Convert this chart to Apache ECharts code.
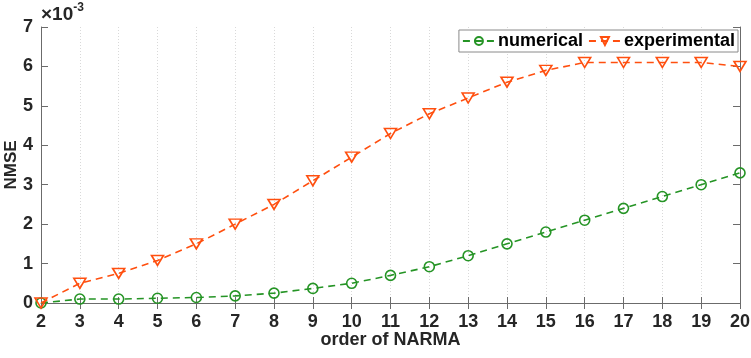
<!DOCTYPE html>
<html>
<head>
<meta charset="utf-8">
<script src="https://cdn.jsdelivr.net/npm/echarts@6/dist/echarts.min.js"></script>
<style>html,body{margin:0;padding:0;background:#fff}#c{width:751px;height:358px}</style>
</head>
<body>
<div id="c"></div>
<script>
const orders = [2,3,4,5,6,7,8,9,10,11,12,13,14,15,16,17,18,19,20];
const numerical = [0,0.10,0.10,0.12,0.14,0.18,0.25,0.37,0.50,0.70,0.92,1.20,1.50,1.80,2.10,2.40,2.70,3.00,3.30];
const experimental = [0,0.50,0.75,1.08,1.50,2.00,2.50,3.10,3.70,4.30,4.80,5.20,5.60,5.90,6.10,6.10,6.10,6.10,6.00];
const yTicks = [0,1,2,3,4,5,6,7];

const GREEN = '#259425';
const ORANGE = '#FF4F0F';
const FONT = 'Liberation Sans';
const TXT = '#262626';
const AX = '#6b6b6b';

const chart = echarts.init(document.getElementById('c'), null, {renderer:'canvas'});
const pairs = (ys) => orders.map((x,i)=>[x, ys[i]]);

chart.setOption({
  animation:false,
  backgroundColor:'#fff',
  textStyle:{fontFamily:FONT},
  grid:{left:41,right:11,top:27,bottom:55,containLabel:false,outerBoundsMode:'none'},
  legend:{
    right:13, top:30,
    itemWidth:32, itemHeight:10, itemGap:5,
    padding:[2,3,2,3],
    borderColor:'#8a8a8a', borderWidth:1, backgroundColor:'#fff',
    textStyle:{fontFamily:FONT,fontWeight:'bold',fontSize:18,color:'#000',padding:[0,0,0,-2]},
    data:['numerical','experimental']
  },
  graphic:[{
    type:'text', left:41, top:2,
    style:{
      text:'{a|×10}{b|-3}',
      rich:{
        a:{fontFamily:FONT,fontWeight:'bold',fontSize:19,fill:TXT,verticalAlign:'bottom',lineHeight:22},
        b:{fontFamily:FONT,fontWeight:'bold',fontSize:12,fill:TXT,verticalAlign:'top',lineHeight:22,padding:[0,0,12,0]}
      }
    }
  }],
  xAxis:[{
    type:'value', min:2, max:20, interval:1,
    name:'order of NARMA', nameLocation:'middle', nameGap:28, nameMoveOverlap:false,
    nameTextStyle:{fontFamily:FONT,fontWeight:'bold',fontSize:18,color:TXT},
    axisLine:{show:true,onZero:false,lineStyle:{color:AX,width:1}},
    axisTick:{show:true,inside:true,length:6,lineStyle:{color:AX}},
    axisLabel:{fontFamily:FONT,fontWeight:'bold',fontSize:18,color:TXT,margin:10},
    splitLine:{show:true,lineStyle:{color:'#d9d9d9',type:[1,2],width:1}}
  },{
    type:'value', min:2, max:20, interval:1, position:'top',
    axisLine:{show:false},
    axisTick:{show:true,inside:true,length:6,lineStyle:{color:AX}},
    axisLabel:{show:false}, splitLine:{show:false}
  }],
  yAxis:[{
    type:'value', min:0, max:7, interval:1,
    name:'NMSE', nameLocation:'middle', nameGap:21, nameRotate:90, nameMoveOverlap:false,
    nameTextStyle:{fontFamily:FONT,fontWeight:'bold',fontSize:17,color:TXT},
    axisLine:{show:true,onZero:false,lineStyle:{color:AX,width:1}},
    axisTick:{show:true,inside:true,length:7,lineStyle:{color:AX}},
    axisLabel:{fontFamily:FONT,fontWeight:'bold',fontSize:18,color:TXT,margin:8},
    splitLine:{show:false}
  },{
    type:'value', min:0, max:7, interval:1, position:'right',
    axisLine:{show:true,lineStyle:{color:AX,width:1}},
    axisTick:{show:true,inside:true,length:7,lineStyle:{color:AX}},
    axisLabel:{show:false}, splitLine:{show:false}
  }],
  series:[{
    name:'numerical', type:'line', data:pairs(numerical),
    symbol:'circle', symbolSize:10, showAllSymbol:true,
    lineStyle:{color:GREEN,width:1.6,type:[7,5]},
    itemStyle:{color:'rgba(255,255,255,0)',borderColor:GREEN,borderWidth:1.6},
    z:3
  },{
    name:'experimental', type:'line', data:pairs(experimental),
    symbol:'triangle', symbolRotate:180, symbolSize:[12,10], showAllSymbol:true,
    lineStyle:{color:ORANGE,width:1.6,type:[7,5]},
    itemStyle:{color:'rgba(255,255,255,0)',borderColor:ORANGE,borderWidth:1.6},
    z:4
  }]
});
</script>
</body>
</html>
